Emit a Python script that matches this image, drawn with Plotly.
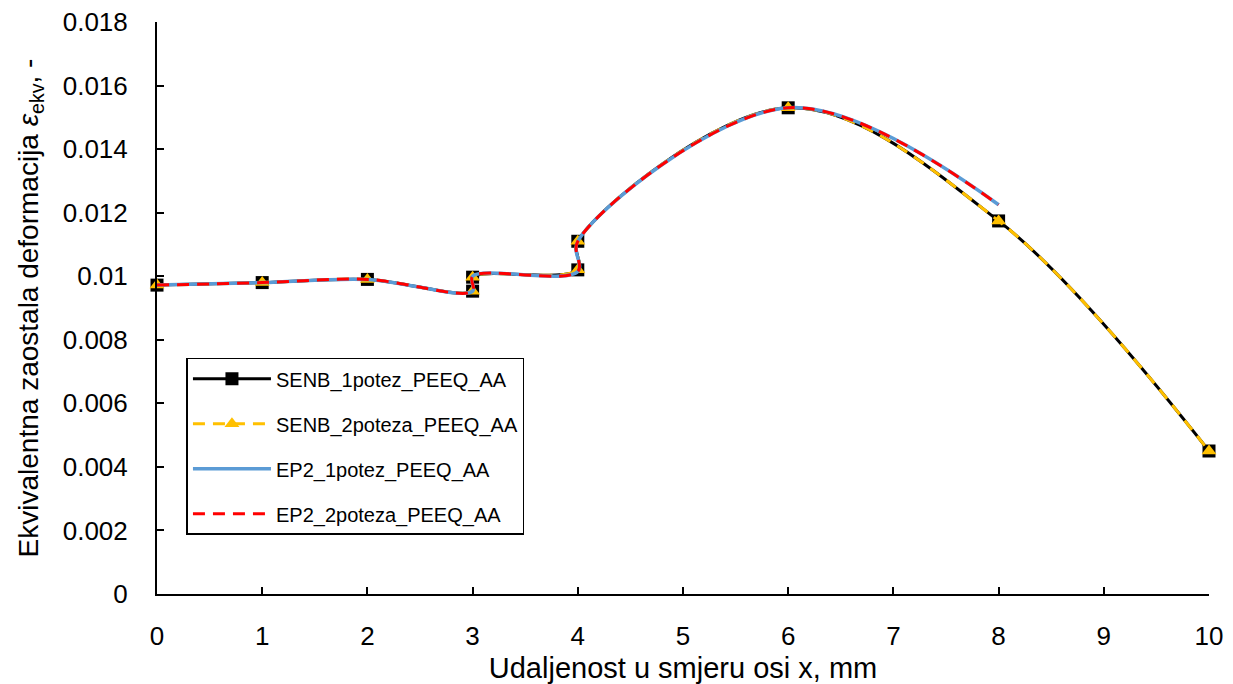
import plotly.graph_objects as go

# Data
x_senb = [0, 1, 2, 3, 3, 4, 4, 6, 8, 10]
y_senb_1potez = [0.00972, 0.00980, 0.00990, 0.00953, 0.00997, 0.01020, 0.01110, 0.01530, 0.01174, 0.00450]
y_senb_2poteza = [0.00972, 0.00980, 0.00990, 0.00953, 0.00997, 0.01020, 0.01110, 0.01530, 0.01174, 0.00450]

x_ep2 = [0, 1, 2, 3, 3, 4, 4, 6, 8]
y_ep2_1potez = [0.00972, 0.00980, 0.00990, 0.00953, 0.01000, 0.01015, 0.01110, 0.01530, 0.01225]
y_ep2_2poteza = [0.00972, 0.00980, 0.00990, 0.00953, 0.01000, 0.01015, 0.01110, 0.01530, 0.01225]

names = ["SENB_1potez_PEEQ_AA", "SENB_2poteza_PEEQ_AA", "EP2_1potez_PEEQ_AA", "EP2_2poteza_PEEQ_AA"]

FONT = "Liberation Sans"

fig = go.Figure()
fig.add_trace(go.Scatter(
    x=x_senb, y=y_senb_1potez, name=names[0], mode="lines+markers", legendgroup="a",
    line=dict(color="black", width=3, shape="spline", smoothing=1),
    marker=dict(symbol="square", size=13, color="black"), cliponaxis=False,
))
fig.add_trace(go.Scatter(
    x=x_senb, y=y_senb_2poteza, name=names[1], mode="lines+markers", legendgroup="b",
    line=dict(color="#FFC000", width=3, dash="12px,8px", shape="spline", smoothing=1),
    marker=dict(symbol="triangle-up", size=13, color="#FFC000"), cliponaxis=False,
))
fig.add_trace(go.Scatter(
    x=x_ep2, y=y_ep2_1potez, name=names[2], mode="lines", legendgroup="c",
    line=dict(color="#5B9BD5", width=3.5, shape="spline", smoothing=1), cliponaxis=False,
))
fig.add_trace(go.Scatter(
    x=x_ep2, y=y_ep2_2poteza, name=names[3], mode="lines", legendgroup="d",
    line=dict(color="#FF0000", width=3, dash="12px,8px", shape="spline", smoothing=1), cliponaxis=False,
))

fig.update_layout(
    width=1233, height=684,
    margin=dict(l=157, r=24, t=22, b=90, autoexpand=False),
    paper_bgcolor="white", plot_bgcolor="white",
    font=dict(family=FONT, size=26, color="black"),
    showlegend=True,
    legend=dict(
        x=0.028, y=0.413, xanchor="left", yanchor="top",
        bordercolor="black", borderwidth=1.5, bgcolor="white",
        font=dict(family=FONT, size=20, color="black"),
        tracegroupgap=16, itemwidth=78,
    ),
    xaxis=dict(
        range=[0, 10], dtick=1, tick0=0, automargin=False,
        showline=True, linecolor="black", linewidth=2,
        ticks="inside", ticklen=7, tickwidth=2, tickcolor="black",
        showgrid=False, zeroline=False,
        ticklabelstandoff=18,
        tickfont=dict(size=26),
        title=dict(text="Udaljenost u smjeru osi x, mm", font=dict(size=29), standoff=8),
    ),
    yaxis=dict(
        range=[0, 0.018], dtick=0.002, tick0=0, automargin=False,
        showline=True, linecolor="black", linewidth=2,
        ticks="inside", ticklen=7, tickwidth=2, tickcolor="black",
        showgrid=False, zeroline=False,
        ticklabelstandoff=22,
        tickfont=dict(size=26),
        title=dict(text="Ekvivalentna zaostala deformacija <i>ε</i><sub>ekv</sub>, -",
                   font=dict(size=28), standoff=16),
    ),
)

fig.write_html("out.html", config={"displayModeBar": False},
               post_script="document.body.style.margin='0';document.body.style.overflow='hidden';")
